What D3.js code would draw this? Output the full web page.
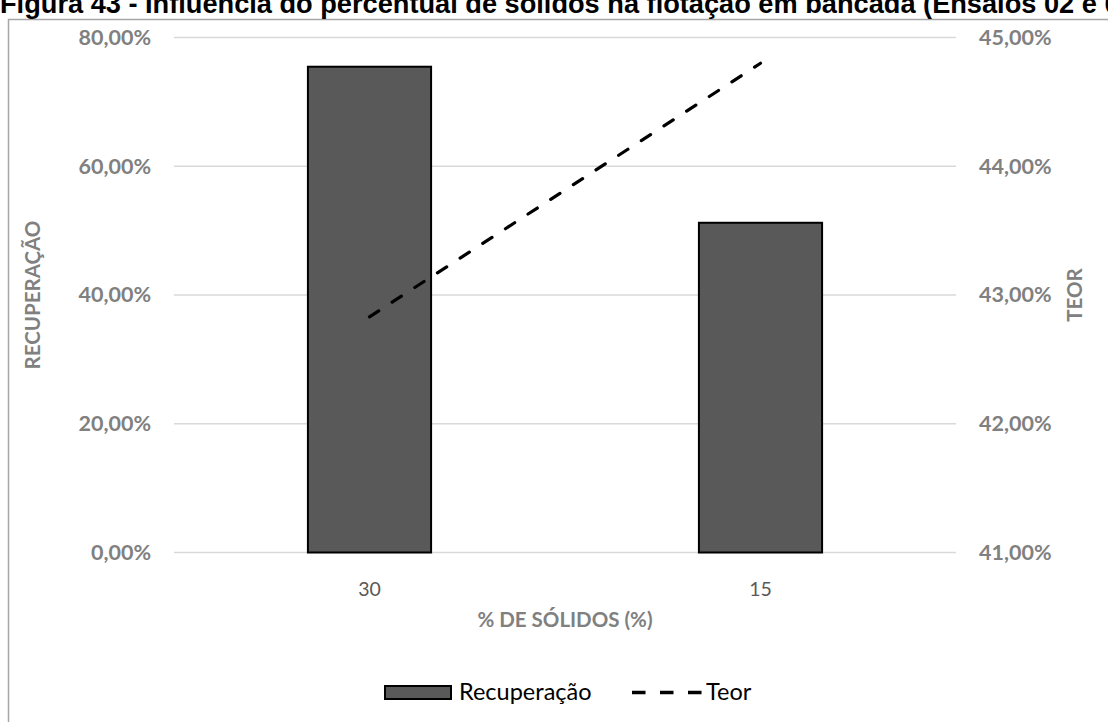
<!DOCTYPE html>
<html>
<head>
<meta charset="utf-8">
<script src="https://cdn.jsdelivr.net/npm/d3@7"></script>
<style>
  html, body { margin: 0; padding: 0; background: #fff; overflow: hidden; }
  svg { display: block; }
</style>
</head>
<body>
<script>
// Ensaios de flotação: recuperação (barras) e teor (linha) por % de sólidos
const categories = ["30", "15"];
const recuperacao = [0.7546, 0.5122];
const teor = [0.4283, 0.4480];
const leftTicks = [0, 0.2, 0.4, 0.6, 0.8];
const rightTicks = [0.41, 0.42, 0.43, 0.44, 0.45];

const W = 1108, H = 722;
const svg = d3.select("body").append("svg").attr("width", W).attr("height", H);

const fmt = v => d3.format(".2f")(v * 100).replace(".", ",") + "%";
const labelFont = "Lato, 'Open Sans', sans-serif";

// Chart frame
svg.append("rect")
  .attr("x", 8.5).attr("y", 19.5).attr("width", W + 20).attr("height", H + 20)
  .attr("fill", "#fff").attr("stroke", "#a6a6a6").attr("stroke-width", 1.5);

// Caption above the frame
svg.append("text")
  .attr("x", 0).attr("y", 13)
  .attr("font-family", "'Liberation Sans', Arial, sans-serif")
  .attr("font-weight", "bold").attr("font-size", 27.2).attr("fill", "#000")
  .text("Figura 43 - Influência do percentual de sólidos na flotação em bancada (Ensaios 02 e 03)");

const plot = { left: 174, right: 956, top: 37.5, bottom: 552.5 };

const x = d3.scaleBand().domain(categories).range([plot.left, plot.right]).padding(0);
const barW = x.bandwidth() * 0.315;
const yL = d3.scaleLinear().domain([0, 0.8]).range([plot.bottom, plot.top]);
const yR = d3.scaleLinear().domain([0.41, 0.45]).range([plot.bottom, plot.top]);

// Gridlines
svg.append("g").selectAll("line").data(leftTicks).join("line")
  .attr("x1", plot.left).attr("x2", plot.right)
  .attr("y1", d => yL(d)).attr("y2", d => yL(d))
  .attr("stroke", "#d9d9d9").attr("stroke-width", 1.5);

// Left axis labels
const axL = svg.append("g").attr("transform", `translate(${plot.left - 23},0)`)
  .call(d3.axisLeft(yL).tickValues(leftTicks).tickFormat(fmt).tickSize(0).tickPadding(0));
axL.select(".domain").remove();
axL.selectAll("text").attr("font-family", labelFont).attr("font-weight", "bold")
  .attr("font-size", 21.5).attr("fill", "#808080");

// Right axis labels
const axR = svg.append("g").attr("transform", `translate(${plot.right + 23},0)`)
  .call(d3.axisRight(yR).tickValues(rightTicks).tickFormat(fmt).tickSize(0).tickPadding(0));
axR.select(".domain").remove();
axR.selectAll("text").attr("font-family", labelFont).attr("font-weight", "bold")
  .attr("font-size", 21.5).attr("fill", "#808080");

// Category labels
const axB = svg.append("g").attr("transform", `translate(0,${plot.bottom + 30})`)
  .call(d3.axisBottom(x).tickSize(0).tickPadding(0));
axB.select(".domain").remove();
axB.selectAll("text").attr("font-family", labelFont).attr("font-size", 19.5)
  .attr("fill", "#595959").attr("dy", "0.71em");

// Bars
svg.append("g").selectAll("rect").data(recuperacao).join("rect")
  .attr("x", (d, i) => x(categories[i]) + (x.bandwidth() - barW) / 2)
  .attr("y", d => yL(d))
  .attr("width", barW)
  .attr("height", d => yL(0) - yL(d))
  .attr("fill", "#595959").attr("stroke", "#000").attr("stroke-width", 2);

// Teor line
const line = d3.line()
  .x((d, i) => x(categories[i]) + x.bandwidth() / 2)
  .y(d => yR(d));
svg.append("path").datum(teor)
  .attr("d", line).attr("fill", "none")
  .attr("stroke", "#000").attr("stroke-width", 3.2)
  .attr("stroke-linecap", "round").attr("stroke-dasharray", "11,16");

// Axis titles
svg.append("text")
  .attr("transform", `translate(40,${(plot.top + plot.bottom) / 2}) rotate(-90)`)
  .attr("text-anchor", "middle")
  .attr("font-family", labelFont).attr("font-weight", "bold")
  .attr("font-size", 20.5).attr("fill", "#808080")
  .text("RECUPERAÇÃO");

svg.append("text")
  .attr("transform", `translate(1082,${(plot.top + plot.bottom) / 2}) rotate(-90)`)
  .attr("text-anchor", "middle")
  .attr("font-family", labelFont).attr("font-weight", "bold")
  .attr("font-size", 20.5).attr("fill", "#808080")
  .text("TEOR");

svg.append("text")
  .attr("x", (plot.left + plot.right) / 2).attr("y", 627)
  .attr("text-anchor", "middle")
  .attr("font-family", labelFont).attr("font-weight", "bold")
  .attr("font-size", 20.5).attr("fill", "#808080")
  .text("% DE SÓLIDOS (%)");

// Legend
const lg = svg.append("g");
lg.append("rect").attr("x", 385).attr("y", 686).attr("width", 66).attr("height", 13)
  .attr("fill", "#595959").attr("stroke", "#000").attr("stroke-width", 2);
lg.append("text").attr("x", 459).attr("y", 700)
  .attr("font-family", labelFont).attr("font-size", 23.5).attr("fill", "#000")
  .text("Recuperação");
lg.append("line").attr("x1", 632).attr("x2", 702).attr("y1", 692.5).attr("y2", 692.5)
  .attr("stroke", "#000").attr("stroke-width", 3.4)
  .attr("stroke-dasharray", "13.5,14.5");
lg.append("text").attr("x", 706).attr("y", 700)
  .attr("font-family", labelFont).attr("font-size", 23.5).attr("fill", "#000")
  .text("Teor");
</script>
</body>
</html>
